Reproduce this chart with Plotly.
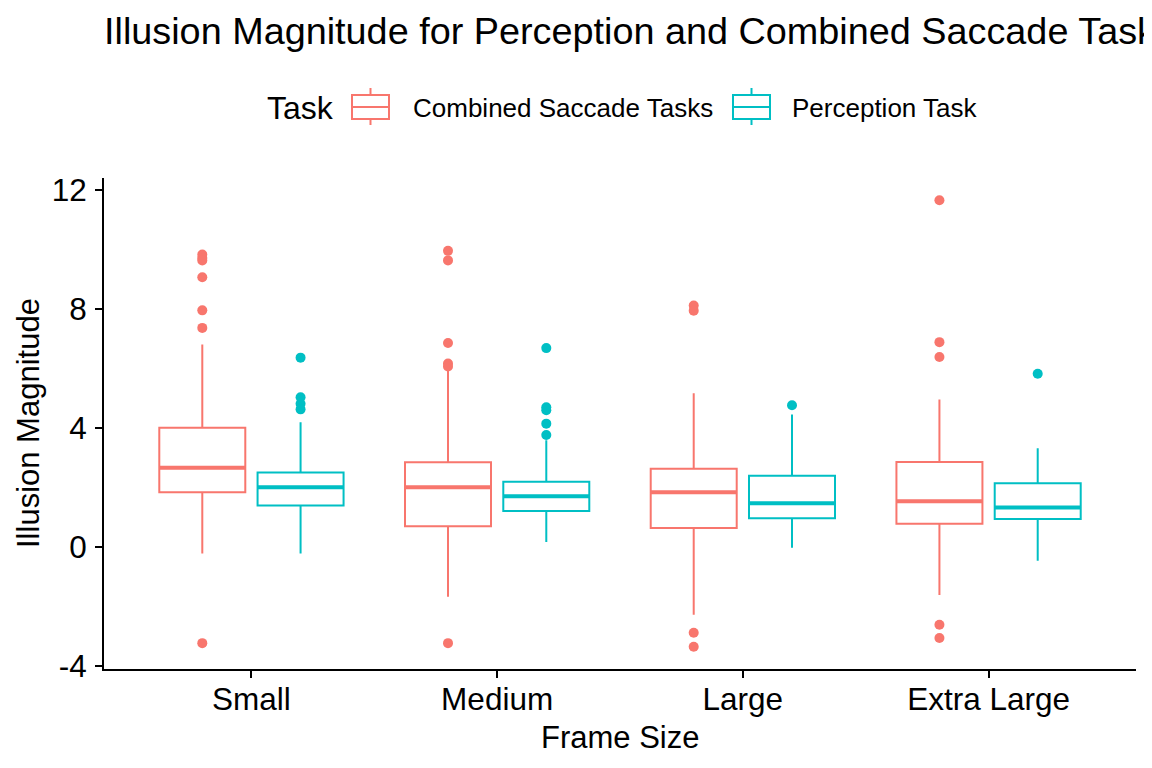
import plotly.graph_objects as go

# Frame sizes on the x axis
frame_sizes = ["Small", "Medium", "Large", "Extra Large"]

# Combined Saccade Tasks
comb_q1 = [1.84, 0.70, 0.64, 0.78]
comb_median = [2.67, 2.01, 1.84, 1.54]
comb_q3 = [4.01, 2.85, 2.63, 2.86]
comb_lower = [-0.22, -1.67, -2.28, -1.61]
comb_upper = [6.81, 5.94, 5.17, 4.96]
comb_out_x = ["Small"] * 7 + ["Medium"] * 6 + ["Large"] * 4 + ["Extra Large"] * 5
comb_out_y = [9.84, 9.72, 9.64, 9.07, 7.96, 7.37, -3.23,
              9.96, 9.64, 6.86, 6.17, 6.07, -3.23,
              8.12, 7.95, -2.88, -3.35,
              11.66, 6.89, 6.39, -2.61, -3.06]

# Perception Task
perc_q1 = [1.40, 1.21, 0.97, 0.94]
perc_median = [2.01, 1.71, 1.47, 1.33]
perc_q3 = [2.51, 2.20, 2.40, 2.15]
perc_lower = [-0.22, 0.17, -0.02, -0.46]
perc_upper = [4.20, 3.59, 4.46, 3.32]
perc_out_x = ["Small"] * 4 + ["Medium"] * 5 + ["Large"] + ["Extra Large"]
perc_out_y = [6.37, 5.04, 4.82, 4.63,
              6.69, 4.70, 4.60, 4.15, 3.77,
              4.77,
              5.83]

y_ticks = [-4, 0, 4, 8, 12]
y_tick_text = ["-4", "0", "4", "8", "12"]

RED = "#F8766D"
TEAL = "#00BFC4"
FONT = "Liberation Sans, Arial, sans-serif"

# page body adds ~8px on top/left, so margins are shifted by that much
OFF = 8
# plot panel on the page (px)
PX0, PX1, PY0, PY1 = 104, 1136, 178, 669


def px(x):
    return (x - PX0) / (PX1 - PX0)


def py(y):
    return (PY1 - y) / (PY1 - PY0)


fig = go.Figure()

tasks = [
    ("Combined Saccade Tasks", "comb", RED, comb_q1, comb_median, comb_q3,
     comb_lower, comb_upper, comb_out_x, comb_out_y),
    ("Perception Task", "perc", TEAL, perc_q1, perc_median, perc_q3,
     perc_lower, perc_upper, perc_out_x, perc_out_y),
]

for name, grp, col, q1, med, q3, lo, hi, ox, oy in tasks:
    # box + whiskers
    fig.add_trace(go.Box(
        name=name, x=frame_sizes, q1=q1, median=med, q3=q3,
        lowerfence=lo, upperfence=hi,
        offsetgroup=grp, showlegend=False,
        line=dict(color=col, width=2), fillcolor="white",
        whiskerwidth=0, boxpoints=False, hoverinfo="skip",
    ))
    # thick median line, drawn as a flat box on top
    fig.add_trace(go.Box(
        name=name, x=frame_sizes, q1=med, median=med, q3=med,
        lowerfence=med, upperfence=med,
        offsetgroup=grp, showlegend=False,
        line=dict(color=col, width=4), fillcolor="rgba(0,0,0,0)",
        whiskerwidth=0, boxpoints=False, hoverinfo="skip",
    ))
    # outliers
    fig.add_trace(go.Scatter(
        name=name, x=ox, y=oy, mode="markers",
        offsetgroup=grp, showlegend=False,
        marker=dict(color=col, size=10),
    ))

# legend drawn by hand so the keys look like ggplot's boxplot keys
legend_keys = [("Combined Saccade Tasks", RED, 352, 411),
               ("Perception Task", TEAL, 733, 790)]
shapes = []
annotations = [
    dict(text="Task", x=px(265), y=py(108), xanchor="left", yanchor="middle",
         font=dict(size=32)),
]
for label, col, kx, tx in legend_keys:
    line = dict(color=col, width=2)
    shapes.append(dict(type="rect", x0=px(kx), x1=px(kx + 37),
                       y0=py(95), y1=py(119), line=line))
    shapes.append(dict(type="line", x0=px(kx), x1=px(kx + 37),
                       y0=py(107), y1=py(107), line=line))
    shapes.append(dict(type="line", x0=px(kx + 18.5), x1=px(kx + 18.5),
                       y0=py(88), y1=py(95), line=line))
    shapes.append(dict(type="line", x0=px(kx + 18.5), x1=px(kx + 18.5),
                       y0=py(119), y1=py(125), line=line))
    annotations.append(dict(text=label, x=px(tx), y=py(108), xanchor="left",
                            yanchor="middle", font=dict(size=26)))

# axis titles
annotations.append(dict(text="Frame Size", x=0.5, y=py(737), xanchor="center",
                        yanchor="middle", font=dict(size=31)))
annotations.append(dict(text="Illusion Magnitude", x=px(28.5), y=0.5,
                        xanchor="center", yanchor="middle", textangle=-90,
                        font=dict(size=31)))
for a in annotations:
    a.update(xref="paper", yref="paper", showarrow=False)
for s in shapes:
    s.update(xref="paper", yref="paper")

fig.update_layout(
    width=1152, height=768,
    margin=dict(l=PX0 - OFF, r=1152 - PX1 + OFF, t=PY0 - OFF, b=768 - PY1 + OFF),
    paper_bgcolor="white", plot_bgcolor="white",
    font=dict(family=FONT, color="black"),
    showlegend=False,
    boxmode="group", boxgap=0.2, boxgroupgap=0.125,
    scattermode="group", scattergap=0.2,
    title=dict(
        text="Illusion Magnitude for Perception and Combined Saccade Tasks",
        font=dict(size=37.8, color="black"),
        x=0, xref="paper", xanchor="left", pad=dict(l=0),
        y=1 - (31 - OFF) / 768, yref="container", yanchor="middle",
    ),
    xaxis=dict(
        type="category", categoryorder="array", categoryarray=frame_sizes,
        range=[-0.6, 3.6], automargin=False,
        showline=True, linecolor="black", linewidth=2,
        ticks="outside", ticklen=7, tickwidth=2, tickcolor="black",
        tickfont=dict(size=31.5), ticklabelstandoff=-6,
        showgrid=False, zeroline=False,
    ),
    yaxis=dict(
        range=[-4.1, 12.41], tickvals=y_ticks, ticktext=y_tick_text,
        automargin=False,
        showline=True, linecolor="black", linewidth=2,
        ticks="outside", ticklen=7, tickwidth=2, tickcolor="black",
        tickfont=dict(size=31.5), ticklabelstandoff=2,
        showgrid=False, zeroline=False,
    ),
    shapes=shapes,
    annotations=annotations,
)

fig.write_html("out.html")
